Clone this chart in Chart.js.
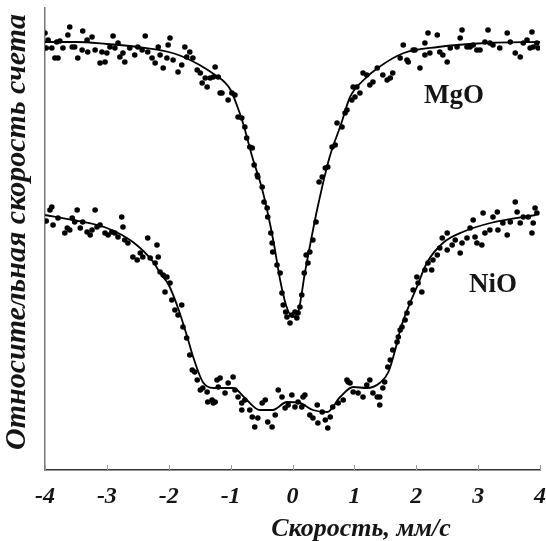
<!DOCTYPE html>
<html lang="ru">
<head>
<meta charset="utf-8">
<title>Мессбауэровские спектры MgO и NiO</title>
<script src="https://cdn.jsdelivr.net/npm/chart.js"></script>
<style>
  html, body { margin: 0; padding: 0; background: #fff; }
  canvas { display: block; }
</style>
</head>
<body>
<canvas id="spectra" width="546" height="541"></canvas>
<script>
// подписи
var xTitle = 'Скорость, мм/с';
var yTitle = 'Относительная скорость счета';
var xTicks = [-4, -3, -2, -1, 0, 1, 2, 3, 4];
var sampleNames = ['MgO', 'NiO'];
// где стоят подписи образцов (скорость, отсчёты)
var sampleLabelPos = [[2.61, 374], [3.24, 185]];

// MgO: экспериментальные точки [скорость мм/с, отсчёты отн. ед.]
var mgoPoints = [
  [-4.00,437],[-3.98,422],[-3.95,430],[-3.89,422],[-3.84,412],[-3.79,412],[-3.81,428],[-3.76,429],
  [-3.71,422],[-3.60,443],[-3.63,435],[-3.56,423],[-3.52,423],[-3.47,412],[-3.40,420],[-3.39,439],
  [-3.32,430],[-3.31,418],[-3.24,433],[-3.19,420],[-3.11,407],[-3.08,418],[-3.03,408],[-3.00,417],
  [-2.95,423],[-2.90,434],[-2.87,422],[-2.82,427],[-2.79,413],[-2.71,408],[-2.74,417],[-2.63,422],
  [-2.55,415],[-2.50,423],[-2.43,420],[-2.38,434],[-2.34,418],[-2.27,412],[-2.22,407],[-2.17,423],
  [-2.14,415],[-2.09,402],[-2.03,412],[-1.98,432],[-2.01,425],[-1.93,410],[-1.85,398],[-1.79,405],
  [-1.74,423],[-1.71,413],[-1.66,418],[-1.61,412],[-1.54,400],[-1.49,397],[-1.46,387],[-1.41,392],
  [-1.38,383],[-1.33,392],[-1.28,393],[-1.25,403],[-1.17,377],[-1.20,393],[-1.14,377],[-1.04,370],
  [-0.98,377],[-0.93,375],[-0.88,353],[-0.82,352],[-0.77,343],[-0.74,332],[-0.69,323],[-0.65,322],
  [-0.62,305],[-0.57,295],[-0.56,293],[-0.49,283],[-0.46,268],[-0.41,262],[-0.40,253],[-0.35,237],
  [-0.33,227],[-0.32,218],[-0.25,205],[-0.20,197],[-0.17,177],[-0.15,165],[-0.11,158],[-0.09,153],
  [-0.04,147],[-0.01,155],[0.04,158],[0.07,152],[0.09,157],[0.12,163],[0.15,175],[0.19,197],
  [0.22,215],[0.25,207],[0.28,218],[0.33,230],[0.38,248],[0.43,288],[0.48,293],[0.53,302],
  [0.57,303],[0.64,323],[0.69,325],[0.72,347],[0.80,343],[0.85,357],[0.88,360],[0.96,370],
  [1.01,373],[0.98,383],[1.04,383],[1.09,377],[1.14,397],[1.20,395],[1.25,385],[1.30,388],
  [1.37,402],[1.46,395],[1.53,390],[1.58,392],[1.62,397],[1.74,412],[1.79,425],[1.85,410],
  [1.87,408],[1.95,420],[1.98,420],[2.06,402],[2.14,427],[2.14,415],[2.19,437],[2.22,417],
  [2.34,435],[2.38,418],[2.43,415],[2.50,408],[2.55,422],[2.66,423],[2.71,432],[2.74,440],
  [2.82,423],[2.87,423],[2.92,425],[2.98,420],[3.03,420],[3.11,428],[3.16,440],[3.19,427],
  [3.24,425],[3.35,422],[3.47,437],[3.52,428],[3.60,417],[3.68,413],[3.73,427],[3.79,430],
  [3.84,422],[3.87,438],[3.89,423],[3.95,427],[3.97,422]
];

// MgO: аппроксимирующая кривая
var mgoFit = [
  [-4.0,428],[-3.5,428],[-3.0,426],[-2.5,423],[-2.0,418],[-1.8,414],[-1.5,405],[-1.25,395],
  [-1.1,388],[-1.0,380],[-0.9,365],[-0.8,347],[-0.65,313],[-0.5,283],[-0.4,257],[-0.3,226],
  [-0.2,190],[-0.1,164],[0.0,153],[0.1,160],[0.2,197],[0.3,230],[0.4,261],[0.6,313],
  [0.78,345],[0.93,373],[1.15,390],[1.4,403],[1.8,417],[2.35,423],[3.15,427],[4.0,428]
];

// NiO: экспериментальные точки
var nioPoints = [
  [-3.89,263],[-3.92,260],[-3.98,249],[-3.87,245],[-3.79,252],[-3.68,237],[-3.64,242],[-3.60,240],
  [-3.56,252],[-3.52,248],[-3.48,260],[-3.43,242],[-3.39,248],[-3.32,238],[-3.27,235],[-3.24,240],
  [-3.19,260],[-3.16,243],[-3.11,245],[-3.03,237],[-2.98,235],[-2.92,238],[-2.87,237],[-2.82,233],
  [-2.76,253],[-2.74,243],[-2.71,230],[-2.66,227],[-2.58,213],[-2.51,210],[-2.46,217],[-2.42,213],
  [-2.34,232],[-2.30,212],[-2.22,207],[-2.19,225],[-2.17,213],[-2.14,198],[-2.09,195],[-2.03,193],
  [-2.06,178],[-1.98,187],[-1.95,170],[-1.90,160],[-1.85,155],[-1.79,165],[-1.77,143],[-1.71,132],
  [-1.66,115],[-1.62,100],[-1.58,98],[-1.54,90],[-1.49,80],[-1.45,82],[-1.37,68],[-1.28,67],
  [-1.22,90],[-1.38,78],[-1.30,70],[-1.25,68],[-1.17,92],[-1.20,83],[-1.09,77],[-1.04,87],
  [-0.96,93],[-0.93,80],[-0.88,73],[-0.82,67],[-0.82,60],[-0.77,70],[-0.69,60],[-0.65,53],
  [-0.61,43],[-0.56,52],[-0.49,67],[-0.44,70],[-0.40,48],[-0.33,43],[-0.28,55],[-0.23,80],
  [-0.17,73],[-0.12,62],[-0.07,65],[-0.01,75],[0.04,63],[0.09,68],[0.15,63],[0.17,73],
  [0.20,75],[0.28,55],[0.33,52],[0.40,65],[0.41,47],[0.48,58],[0.53,50],[0.57,42],
  [0.61,53],[0.65,63],[0.74,67],[0.82,70],[0.88,90],[0.90,88],[0.93,87],[0.98,78],
  [1.06,77],[1.14,73],[1.20,85],[1.25,90],[1.30,77],[1.37,73],[1.41,65],[1.41,73],
  [1.46,82],[1.49,88],[1.54,103],[1.58,110],[1.62,120],[1.69,128],[1.71,133],[1.74,140],
  [1.77,143],[1.82,150],[1.85,157],[1.90,167],[1.95,180],[2.01,193],[2.03,187],[2.09,178],
  [2.14,200],[2.19,207],[2.25,200],[2.27,210],[2.34,215],[2.38,222],[2.42,232],[2.50,220],
  [2.50,237],[2.58,225],[2.63,230],[2.71,217],[2.74,227],[2.82,232],[2.87,242],[2.92,250],
  [2.95,233],[2.98,227],[3.06,225],[3.08,257],[3.11,237],[3.19,240],[3.24,253],[3.31,258],
  [3.32,240],[3.40,247],[3.47,235],[3.52,248],[3.60,268],[3.63,258],[3.68,247],[3.73,253],
  [3.81,253],[3.87,237],[3.89,247],[3.95,257],[3.92,262]
];

// NiO: аппроксимирующая кривая
var nioFit = [
  [-4.0,255],[-3.55,250],[-3.0,242],[-2.58,228],[-2.25,208],[-2.14,197],[-2.0,185],[-1.85,162],
  [-1.71,135],[-1.6,112],[-1.45,88],[-1.28,82],[-0.96,82],[-0.74,70],[-0.53,60],[-0.32,60],
  [-0.09,68],[0.12,67],[0.33,60],[0.56,58],[0.77,73],[0.98,83],[1.2,82],[1.41,87],
  [1.55,98],[1.69,127],[1.74,140],[1.9,167],[2.01,183],[2.17,207],[2.43,227],[2.75,238],
  [3.2,247],[3.93,255]
];

function toXY(arr) {
  return arr.map(p => ({ x: p[0], y: p[1] }));
}

var serif = '"Liberation Serif", "Times New Roman", serif';
var ink = '#151515';

// подписи осей, образцов и внутренние риски
var extraText = {
  id: 'extraText',
  afterDraw(chart) {
    var ctx = chart.ctx;
    var xs = chart.scales.x, ys = chart.scales.y;
    var area = chart.chartArea;
    ctx.save();

    // риски на оси X внутрь графика
    ctx.strokeStyle = '#9a9a9a';
    ctx.lineWidth = 1;
    xTicks.forEach(function (t) {
      var px = Math.round(xs.getPixelForValue(t)) + 0.5;
      ctx.beginPath();
      ctx.moveTo(px, area.bottom);
      ctx.lineTo(px, area.bottom - 5);
      ctx.stroke();
    });

    ctx.fillStyle = ink;
    ctx.textAlign = 'center';
    ctx.textBaseline = 'middle';

    // подпись оси X
    ctx.font = 'bold italic 26px ' + serif;
    ctx.fillText(xTitle, 361, 529);

    // подпись оси Y
    ctx.save();
    ctx.translate(17, 232);
    ctx.rotate(-Math.PI / 2);
    ctx.font = 'bold italic 30px ' + serif;
    ctx.fillText(yTitle, 0, 0);
    ctx.restore();

    // названия образцов
    ctx.font = 'bold 27px ' + serif;
    sampleNames.forEach(function (name, i) {
      var p = sampleLabelPos[i];
      ctx.fillText(name, xs.getPixelForValue(p[0]), ys.getPixelForValue(p[1]));
    });
    ctx.restore();
  }
};

var pointStyle = {
  showLine: false,
  pointRadius: 2.8,
  pointHoverRadius: 2.8,
  pointBackgroundColor: '#000',
  pointBorderWidth: 0,
  borderColor: '#000'
};

var lineStyle = {
  showLine: true,
  pointRadius: 0,
  borderColor: '#000',
  borderWidth: 1.8,
  cubicInterpolationMode: 'monotone',
  fill: false
};

new Chart(document.getElementById('spectra'), {
  type: 'scatter',
  data: {
    datasets: [
      Object.assign({ label: 'MgO', data: toXY(mgoPoints) }, pointStyle),
      Object.assign({ label: 'MgO fit', data: toXY(mgoFit) }, lineStyle),
      Object.assign({ label: 'NiO', data: toXY(nioPoints) }, pointStyle),
      Object.assign({ label: 'NiO fit', data: toXY(nioFit) }, lineStyle)
    ]
  },
  options: {
    responsive: false,
    animation: false,
    devicePixelRatio: 1,
    layout: { padding: { left: 0, right: 6, top: 8, bottom: 0 } },
    plugins: {
      legend: { display: false },
      tooltip: { enabled: false }
    },
    scales: {
      x: {
        type: 'linear',
        min: -4,
        max: 4,
        afterBuildTicks: function (scale) {
          scale.ticks = xTicks.map(v => ({ value: v }));
        },
        afterFit: function (scale) {
          scale.height = 71;
          // подпись "4" может выходить за край, область графика не сжимаем
          scale.paddingLeft = 0;
          scale.paddingRight = 0;
        },
        ticks: {
          color: ink,
          padding: 12,
          maxRotation: 0,
          font: { family: serif, size: 24, weight: 'bold', style: 'italic' }
        },
        grid: { drawOnChartArea: false, drawTicks: false },
        border: { color: '#333', width: 1.5 }
      },
      y: {
        min: 0,
        max: 462,
        afterFit: function (scale) { scale.width = 45; },
        ticks: { display: false },
        grid: { drawOnChartArea: false, drawTicks: false },
        border: { color: '#777', width: 1.5 }
      }
    }
  },
  plugins: [extraText]
});
</script>
</body>
</html>
